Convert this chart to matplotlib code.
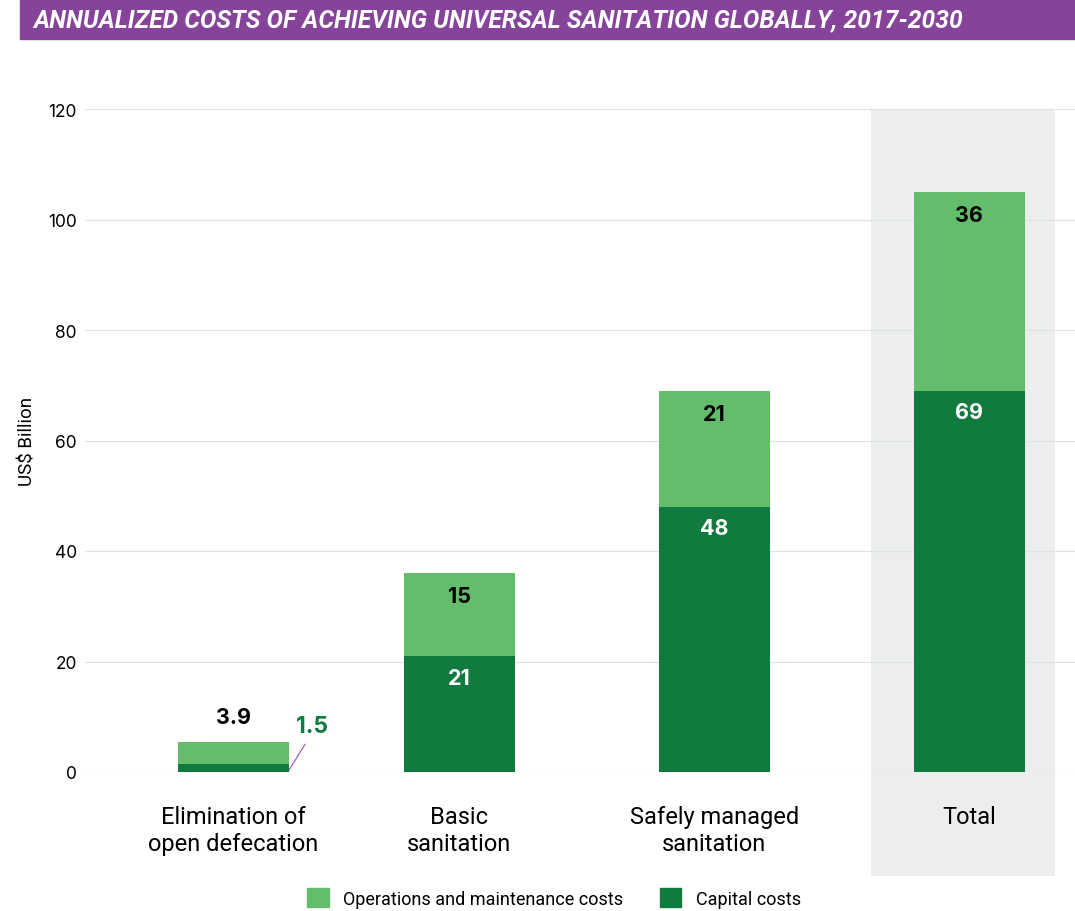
import numpy as np
import matplotlib.pyplot as plt
from matplotlib.patches import Rectangle, Patch

plt.rcParams['font.family'] = ['Roboto', 'DejaVu Sans']
num_font = ['Inter', 'DejaVu Sans']

categories = ['Elimination of\nopen defecation', 'Basic\nsanitation',
              'Safely managed\nsanitation', 'Total']
capital = [1.5, 21, 48, 69]
om = [3.9, 15, 21, 36]
yticks = [0, 20, 40, 60, 80, 100, 120]

light = '#63bd6b'
dark = '#117a3e'
purple = '#86439a'

fig = plt.figure(figsize=(10.75, 9.12), dpi=100)
ax = fig.add_axes([85/1075, 1-773/912, 990/1075, 663/912])

# first gap is a bit narrower than the others in the original layout
x = np.array([0, 0.886, 1.886, 2.886])
w = 0.435
ax.set_xlim(-0.582, 3.300)
ax.set_ylim(0, 120)

# shaded "Total" column (sits slightly left of the bar)
ax.add_patch(Rectangle((x[3]-0.386, -18.8), 0.722, 138.8, color='#eceeed',
                       zorder=0, clip_on=False, lw=0))

ax.bar(x, capital, w, color=dark, zorder=3)
ax.bar(x, om, w, bottom=capital, color=light, zorder=3)

for i in range(1, 4):
    top = capital[i] + om[i]
    ax.text(x[i], top - 4.2, f'{om[i]:g}', ha='center', va='center',
            fontsize=15.5, fontweight='bold', color='black', zorder=4,
            family=num_font)
    ax.text(x[i], capital[i] - 3.9, f'{capital[i]:g}', ha='center', va='center',
            fontsize=15.5, fontweight='bold', color='white', zorder=4,
            family=num_font)

ax.text(x[0], capital[0] + om[0] + 4.5, f'{om[0]:g}', ha='center', va='center',
        fontsize=15.5, fontweight='bold', color='black', family=num_font)
ax.text(x[0] + 0.308, 8.3, f'{capital[0]:g}', ha='center', va='center',
        fontsize=16.5, fontweight='bold', color=dark, family=num_font)
ax.plot([x[0] + w/2, x[0] + w/2 + 0.063], [0.3, 5.0], color='#b05cc0', lw=0.9)

ax.set_yticks(yticks)
ax.set_xticks(x)
ax.set_xticklabels(categories, fontsize=17, linespacing=1.2)
ax.tick_params(length=0)
ax.tick_params(axis='x', pad=24)
ax.tick_params(axis='y', labelsize=12.5, pad=6)
for lab in ax.get_yticklabels():
    lab.set_family(num_font)
ax.grid(axis='y', color='#dfe3e2', lw=0.9, zorder=1)
ax.set_axisbelow(True)
for s in ax.spines.values():
    s.set_visible(False)
ax.set_ylabel('US$ Billion', fontsize=13.5, labelpad=8)

# title banner
fig.patches.append(Rectangle((20/1075, 1-40/912), 1-20/1075, 40/912,
                             transform=fig.transFigure, color=purple))
fig.text(33/1075, 1-20/912, 'ANNUALIZED COSTS OF ACHIEVING UNIVERSAL SANITATION GLOBALLY, 2017-2030',
         color='white', fontsize=17.7, fontweight='bold', style='italic',
         va='center', ha='left')

handles = [Patch(color=light), Patch(color=dark)]
fig.legend(handles, ['Operations and maintenance costs', 'Capital costs'],
           loc='center', bbox_to_anchor=(554/1075, 1-899/912), ncol=2,
           frameon=False, fontsize=13, handlelength=1.2, handleheight=1.2,
           columnspacing=2.0, handletextpad=0.8)

fig.savefig('out.png', dpi=100)
